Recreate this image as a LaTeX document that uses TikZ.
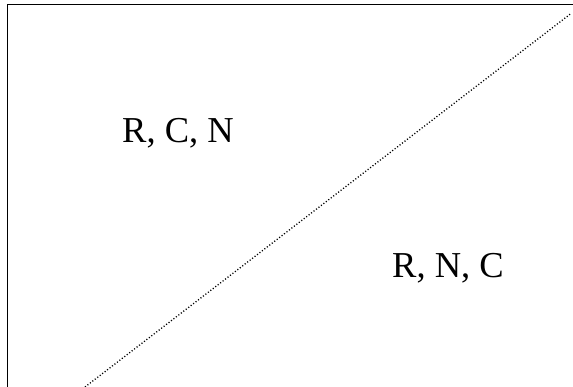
\documentclass[tikz,border=0pt]{standalone}
\usepackage{fontspec}
\setmainfont{Liberation Serif}
\begin{document}
\begin{tikzpicture}[x=1pt,y=1pt,
  frameline/.style={line width=1.5pt,black},
  diagline/.style={line width=1.3pt,black,dash pattern=on 1.1pt off 2pt},
  lbl/.style={font=\fontsize{36.5}{42}\selectfont,inner sep=0pt,anchor=base}]
\useasboundingbox (0,0) rectangle (573,387);
\fill[white] (0,0) rectangle (573,387);
\draw[frameline] (7.5,0) -- (7.5,382.5) -- (573,382.5);
\coordinate (lo) at (85,0);
\coordinate (hi) at (571,373.5);
\draw[diagline] (lo) -- (hi);
\node[lbl] (a) at (178,244) {R, C, N};
\node[lbl] (b) at (448,109) {R, N, C};
\end{tikzpicture}
\end{document}
